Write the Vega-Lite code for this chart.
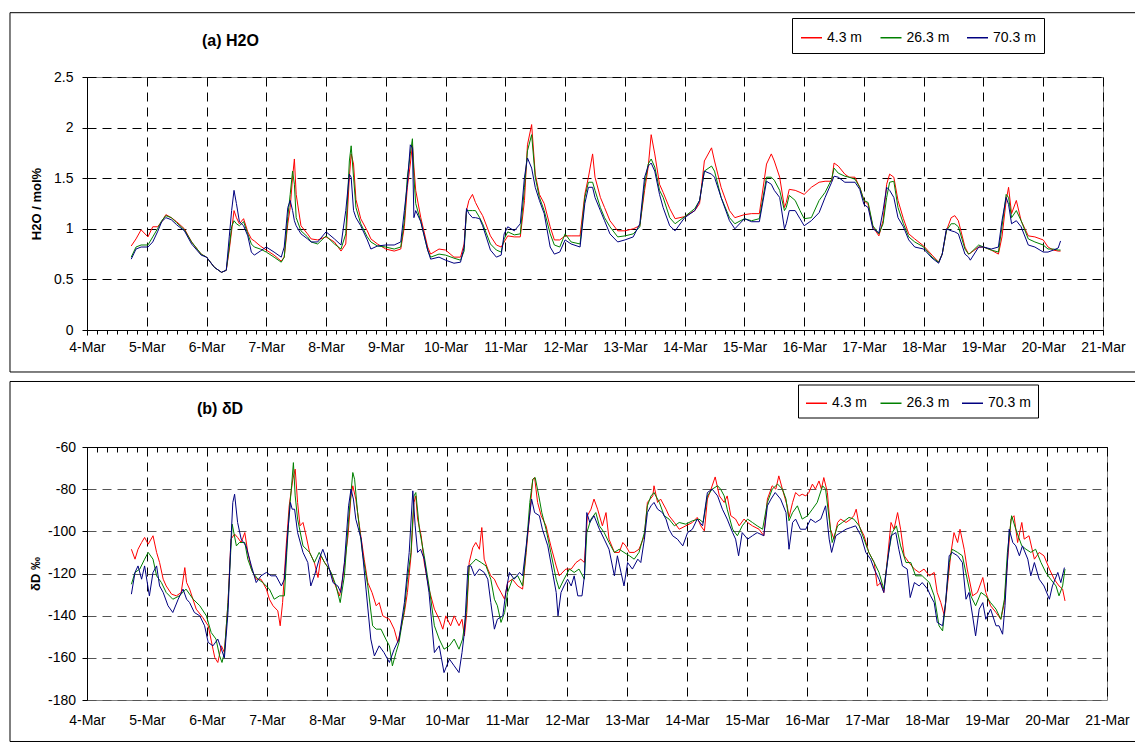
{
"$schema": "https://vega.github.io/schema/vega-lite/v6.json",
"padding": {"left": 8, "top": 11, "right": 0, "bottom": 0},
"spacing": 7,
"config": {
  "font": "Liberation Sans",
  "view": {"stroke": "#808080", "strokeWidth": 1},
  "axis": {"labelFont": "Liberation Sans", "labelFontSize": 14, "labelColor": "black", "tickColor": "black", "domainColor": "black", "gridColor": "black", "gridDash": [9, 6], "gridOpacity": 1, "gridWidth": 1, "tickWidth": 1, "domainWidth": 1, "titleFont": "Liberation Sans", "titleFontSize": 13, "titleFontWeight": "bold", "titleColor": "black", "labelFlush": false, "labelOverlap": false, "labelBound": false},
  "legend": {"labelFont": "Liberation Sans", "labelFontSize": 14, "labelColor": "black"}
},
"datasets": {
"h2o": [
{"t":4.74,"h4":0.83,"h26":0.72,"h70":0.7},{"t":4.82,"h4":0.9,"h26":0.82,"h70":0.8},{"t":4.905,"h4":0.99,"h26":0.84,"h70":0.82},{"t":5.02,"h4":0.92,"h26":0.84,"h70":0.82},{"t":5.1,"h4":1.02,"h26":0.92,"h70":0.87},{"t":5.18,"h4":1.02,"h26":1,"h70":0.97},{"t":5.25,"h4":1.07,"h26":1.08,"h70":1.07},{"t":5.32,"h4":1.14,"h26":1.13,"h70":1.11},{"t":5.41,"h4":1.11,"h26":1.11,"h70":1.09},{"t":5.5,"h4":1.07,"h26":1.06,"h70":1.04},{"t":5.63,"h4":1,"h26":0.99,"h70":0.98},{"t":5.75,"h4":0.87,"h26":0.87,"h70":0.85},{"t":5.91,"h4":0.75,"h26":0.75,"h70":0.74},{"t":6,"h4":0.72,"h26":0.72,"h70":0.72},{"t":6.13,"h4":0.62,"h26":0.62,"h70":0.62},{"t":6.25,"h4":0.57,"h26":0.57,"h70":0.57},{"t":6.33,"h4":0.59,"h26":0.59,"h70":0.59},{"t":6.38,"h4":0.79,"h26":0.82,"h70":0.92},{"t":6.42,"h4":0.98,"h26":1.02,"h70":1.18},{"t":6.46,"h4":1.18,"h26":1.08,"h70":1.38},{"t":6.5,"h4":1.11,"h26":1.05,"h70":1.25},{"t":6.55,"h4":1.05,"h26":1.03,"h70":1.07},{"t":6.62,"h4":1.1,"h26":1.07,"h70":1.03},{"t":6.69,"h4":0.97,"h26":0.95,"h70":0.93},{"t":6.75,"h4":0.9,"h26":0.85,"h70":0.77},{"t":6.8,"h4":0.88,"h26":0.82,"h70":0.74},{"t":6.9,"h4":0.83,"h26":0.8,"h70":0.78},{"t":7,"h4":0.79,"h26":0.77,"h70":0.82},{"t":7.13,"h4":0.74,"h26":0.72,"h70":0.77},{"t":7.25,"h4":0.68,"h26":0.67,"h70":0.72},{"t":7.3,"h4":0.72,"h26":0.72,"h70":0.82},{"t":7.36,"h4":1.05,"h26":1.12,"h70":1.21},{"t":7.4,"h4":1.21,"h26":1.34,"h70":1.28},{"t":7.44,"h4":1.51,"h26":1.57,"h70":1.18},{"t":7.47,"h4":1.69,"h26":1.44,"h70":1.08},{"t":7.5,"h4":1.34,"h26":1.11,"h70":1.03},{"t":7.58,"h4":1.03,"h26":0.98,"h70":0.95},{"t":7.69,"h4":0.95,"h26":0.92,"h70":0.9},{"t":7.75,"h4":0.9,"h26":0.87,"h70":0.87},{"t":7.86,"h4":0.89,"h26":0.85,"h70":0.87},{"t":8,"h4":0.92,"h26":0.93,"h70":0.97},{"t":8.14,"h4":0.87,"h26":0.85,"h70":0.9},{"t":8.25,"h4":0.78,"h26":0.8,"h70":0.84},{"t":8.33,"h4":0.85,"h26":0.95,"h70":1.18},{"t":8.39,"h4":1.51,"h26":1.67,"h70":1.54},{"t":8.42,"h4":1.74,"h26":1.82,"h70":1.51},{"t":8.46,"h4":1.64,"h26":1.51,"h70":1.18},{"t":8.5,"h4":1.29,"h26":1.21,"h70":1.11},{"t":8.58,"h4":1.1,"h26":1.05,"h70":1.03},{"t":8.69,"h4":0.98,"h26":0.92,"h70":0.89},{"t":8.75,"h4":0.9,"h26":0.87,"h70":0.8},{"t":8.86,"h4":0.85,"h26":0.83,"h70":0.83},{"t":9,"h4":0.8,"h26":0.82,"h70":0.84},{"t":9.14,"h4":0.78,"h26":0.8,"h70":0.84},{"t":9.25,"h4":0.8,"h26":0.82,"h70":0.87},{"t":9.31,"h4":1.02,"h26":1.08,"h70":1.18},{"t":9.36,"h4":1.41,"h26":1.51,"h70":1.44},{"t":9.41,"h4":1.64,"h26":1.74,"h70":1.83},{"t":9.445,"h4":1.83,"h26":1.89,"h70":1.8},{"t":9.47,"h4":1.61,"h26":1.51,"h70":1.11},{"t":9.5,"h4":1.38,"h26":1.25,"h70":1.18},{"t":9.585,"h4":1.11,"h26":1.07,"h70":1.07},{"t":9.7,"h4":0.82,"h26":0.79,"h70":0.79},{"t":9.75,"h4":0.75,"h26":0.72,"h70":0.7},{"t":9.89,"h4":0.8,"h26":0.75,"h70":0.72},{"t":10,"h4":0.79,"h26":0.74,"h70":0.69},{"t":10.14,"h4":0.72,"h26":0.71,"h70":0.66},{"t":10.25,"h4":0.72,"h26":0.69,"h70":0.67},{"t":10.31,"h4":0.85,"h26":0.78,"h70":0.82},{"t":10.35,"h4":1.18,"h26":1.18,"h70":1.2},{"t":10.39,"h4":1.28,"h26":1.18,"h70":1.15},{"t":10.45,"h4":1.34,"h26":1.18,"h70":1.11},{"t":10.5,"h4":1.26,"h26":1.18,"h70":1.11},{"t":10.57,"h4":1.18,"h26":1.11,"h70":1.1},{"t":10.62,"h4":1.13,"h26":1.05,"h70":1.03},{"t":10.75,"h4":0.93,"h26":0.85,"h70":0.79},{"t":10.85,"h4":0.84,"h26":0.79,"h70":0.72},{"t":10.93,"h4":0.82,"h26":0.77,"h70":0.74},{"t":10.98,"h4":0.87,"h26":0.9,"h70":0.95},{"t":11.04,"h4":0.93,"h26":0.97,"h70":1.02},{"t":11.15,"h4":0.92,"h26":0.94,"h70":0.98},{"t":11.25,"h4":0.92,"h26":0.95,"h70":1.05},{"t":11.32,"h4":1.28,"h26":1.41,"h70":1.51},{"t":11.37,"h4":1.83,"h26":1.77,"h70":1.7},{"t":11.44,"h4":2.03,"h26":1.93,"h70":1.6},{"t":11.5,"h4":1.54,"h26":1.51,"h70":1.41},{"t":11.57,"h4":1.34,"h26":1.31,"h70":1.28},{"t":11.65,"h4":1.25,"h26":1.18,"h70":1.15},{"t":11.75,"h4":1.02,"h26":0.95,"h70":0.82},{"t":11.82,"h4":0.89,"h26":0.84,"h70":0.75},{"t":11.91,"h4":0.89,"h26":0.82,"h70":0.77},{"t":12,"h4":0.93,"h26":0.95,"h70":0.89},{"t":12.1,"h4":0.93,"h26":0.87,"h70":0.85},{"t":12.25,"h4":0.93,"h26":0.85,"h70":0.82},{"t":12.33,"h4":1.34,"h26":1.31,"h70":1.25},{"t":12.39,"h4":1.51,"h26":1.46,"h70":1.41},{"t":12.46,"h4":1.74,"h26":1.46,"h70":1.41},{"t":12.5,"h4":1.51,"h26":1.38,"h70":1.31},{"t":12.59,"h4":1.31,"h26":1.21,"h70":1.18},{"t":12.66,"h4":1.21,"h26":1.11,"h70":1.08},{"t":12.75,"h4":1.08,"h26":1.02,"h70":0.95},{"t":12.88,"h4":0.98,"h26":0.92,"h70":0.87},{"t":13,"h4":0.98,"h26":0.93,"h70":0.89},{"t":13.14,"h4":1,"h26":0.95,"h70":0.92},{"t":13.25,"h4":1.03,"h26":1.02,"h70":1.05},{"t":13.33,"h4":1.38,"h26":1.44,"h70":1.51},{"t":13.39,"h4":1.61,"h26":1.64,"h70":1.62},{"t":13.44,"h4":1.93,"h26":1.69,"h70":1.65},{"t":13.5,"h4":1.74,"h26":1.61,"h70":1.57},{"t":13.58,"h4":1.44,"h26":1.38,"h70":1.34},{"t":13.64,"h4":1.36,"h26":1.31,"h70":1.21},{"t":13.75,"h4":1.2,"h26":1.11,"h70":1.03},{"t":13.84,"h4":1.1,"h26":1.05,"h70":0.98},{"t":14,"h4":1.12,"h26":1.12,"h70":1.11},{"t":14.17,"h4":1.18,"h26":1.2,"h70":1.18},{"t":14.25,"h4":1.25,"h26":1.28,"h70":1.28},{"t":14.33,"h4":1.67,"h26":1.57,"h70":1.57},{"t":14.45,"h4":1.8,"h26":1.62,"h70":1.54},{"t":14.5,"h4":1.67,"h26":1.57,"h70":1.51},{"t":14.61,"h4":1.41,"h26":1.31,"h70":1.31},{"t":14.75,"h4":1.18,"h26":1.11,"h70":1.08},{"t":14.84,"h4":1.11,"h26":1.05,"h70":1},{"t":15,"h4":1.14,"h26":1.1,"h70":1.1},{"t":15.12,"h4":1.15,"h26":1.08,"h70":1.07},{"t":15.25,"h4":1.15,"h26":1.1,"h70":1.07},{"t":15.37,"h4":1.64,"h26":1.51,"h70":1.47},{"t":15.45,"h4":1.74,"h26":1.51,"h70":1.44},{"t":15.5,"h4":1.67,"h26":1.48,"h70":1.38},{"t":15.59,"h4":1.51,"h26":1.38,"h70":1.31},{"t":15.67,"h4":1.21,"h26":1.18,"h70":1},{"t":15.7,"h4":1.26,"h26":1.21,"h70":1.05},{"t":15.75,"h4":1.39,"h26":1.33,"h70":1.18},{"t":15.85,"h4":1.38,"h26":1.28,"h70":1.18},{"t":15.93,"h4":1.36,"h26":1.18,"h70":1.1},{"t":16,"h4":1.34,"h26":1.1,"h70":1.03},{"t":16.12,"h4":1.41,"h26":1.11,"h70":1.08},{"t":16.25,"h4":1.46,"h26":1.28,"h70":1.16},{"t":16.35,"h4":1.47,"h26":1.36,"h70":1.31},{"t":16.46,"h4":1.47,"h26":1.49,"h70":1.46},{"t":16.5,"h4":1.65,"h26":1.6,"h70":1.52},{"t":16.57,"h4":1.62,"h26":1.55,"h70":1.51},{"t":16.68,"h4":1.54,"h26":1.52,"h70":1.46},{"t":16.75,"h4":1.51,"h26":1.51,"h70":1.46},{"t":16.85,"h4":1.51,"h26":1.49,"h70":1.46},{"t":16.93,"h4":1.41,"h26":1.41,"h70":1.39},{"t":17,"h4":1.28,"h26":1.28,"h70":1.24},{"t":17.07,"h4":1.24,"h26":1.26,"h70":1.21},{"t":17.15,"h4":1.02,"h26":1.03,"h70":1},{"t":17.25,"h4":0.93,"h26":0.95,"h70":0.96},{"t":17.32,"h4":1.08,"h26":1.05,"h70":1.18},{"t":17.38,"h4":1.44,"h26":1.31,"h70":1.41},{"t":17.43,"h4":1.54,"h26":1.46,"h70":1.38},{"t":17.5,"h4":1.51,"h26":1.47,"h70":1.31},{"t":17.57,"h4":1.28,"h26":1.21,"h70":1.11},{"t":17.66,"h4":1.1,"h26":1.05,"h70":1.02},{"t":17.75,"h4":0.95,"h26":0.92,"h70":0.89},{"t":17.85,"h4":0.9,"h26":0.87,"h70":0.82},{"t":18,"h4":0.83,"h26":0.82,"h70":0.8},{"t":18.14,"h4":0.74,"h26":0.72,"h70":0.71},{"t":18.25,"h4":0.67,"h26":0.67,"h70":0.66},{"t":18.31,"h4":0.75,"h26":0.75,"h70":0.75},{"t":18.38,"h4":0.98,"h26":0.98,"h70":1},{"t":18.46,"h4":1.11,"h26":1.05,"h70":0.98},{"t":18.52,"h4":1.13,"h26":1.05,"h70":0.97},{"t":18.58,"h4":1.08,"h26":1.02,"h70":0.95},{"t":18.69,"h4":0.82,"h26":0.8,"h70":0.75},{"t":18.75,"h4":0.75,"h26":0.75,"h70":0.72},{"t":18.78,"h4":0.76,"h26":0.76,"h70":0.69},{"t":18.92,"h4":0.82,"h26":0.84,"h70":0.82},{"t":19,"h4":0.82,"h26":0.82,"h70":0.82},{"t":19.13,"h4":0.79,"h26":0.79,"h70":0.8},{"t":19.25,"h4":0.75,"h26":0.77,"h70":0.82},{"t":19.31,"h4":0.92,"h26":1.02,"h70":1.08},{"t":19.38,"h4":1.28,"h26":1.34,"h70":1.31},{"t":19.42,"h4":1.41,"h26":1.31,"h70":1.24},{"t":19.47,"h4":1.15,"h26":1.11,"h70":1.05},{"t":19.55,"h4":1.28,"h26":1.18,"h70":1.08},{"t":19.63,"h4":1.08,"h26":1.08,"h70":1.02},{"t":19.75,"h4":0.93,"h26":0.9,"h70":0.84},{"t":19.86,"h4":0.92,"h26":0.87,"h70":0.82},{"t":20,"h4":0.89,"h26":0.84,"h70":0.77},{"t":20.08,"h4":0.82,"h26":0.8,"h70":0.77},{"t":20.17,"h4":0.79,"h26":0.8,"h70":0.79},{"t":20.25,"h4":0.78,"h26":0.79,"h70":0.81},{"t":20.29,"h4":0.78,"h26":0.79,"h70":0.88}
],
"dD4": [
{"t":4.74,"v":-108.5},{"t":4.8,"v":-113.2},{"t":4.85,"v":-108.5},{"t":4.91,"v":-105.3},{"t":4.96,"v":-102.9},{"t":5.02,"v":-106.1},{"t":5.1,"v":-102.1},{"t":5.16,"v":-110},{"t":5.21,"v":-114.8},{"t":5.27,"v":-122.7},{"t":5.32,"v":-125.9},{"t":5.41,"v":-129.8},{"t":5.49,"v":-130.6},{"t":5.57,"v":-129},{"t":5.63,"v":-117.2},{"t":5.66,"v":-124.3},{"t":5.71,"v":-127.4},{"t":5.82,"v":-136.9},{"t":5.93,"v":-140.9},{"t":6.02,"v":-144.8},{"t":6.1,"v":-155.9},{"t":6.13,"v":-159.9},{"t":6.18,"v":-162.2},{"t":6.24,"v":-154.3},{"t":6.29,"v":-157.5},{"t":6.35,"v":-133.8},{"t":6.4,"v":-103.7},{"t":6.46,"v":-101.3},{"t":6.51,"v":-102.9},{"t":6.57,"v":-105.3},{"t":6.63,"v":-100.6},{"t":6.68,"v":-110},{"t":6.74,"v":-117.9},{"t":6.82,"v":-122.7},{"t":6.9,"v":-122.7},{"t":6.99,"v":-127.4},{"t":7.04,"v":-132.2},{"t":7.1,"v":-135.3},{"t":7.18,"v":-137.7},{"t":7.22,"v":-144.8},{"t":7.26,"v":-133.8},{"t":7.32,"v":-106.9},{"t":7.37,"v":-87.9},{"t":7.43,"v":-75.3},{"t":7.47,"v":-70.5},{"t":7.51,"v":-86.3},{"t":7.55,"v":-97.4},{"t":7.6,"v":-95.8},{"t":7.64,"v":-100.6},{"t":7.71,"v":-110},{"t":7.79,"v":-114.8},{"t":7.85,"v":-121.9},{"t":7.9,"v":-111.6},{"t":7.96,"v":-114.8},{"t":8.04,"v":-117.9},{"t":8.12,"v":-124.3},{"t":8.21,"v":-130.6},{"t":8.26,"v":-122.7},{"t":8.35,"v":-102.1},{"t":8.4,"v":-83.2},{"t":8.43,"v":-78.4},{"t":8.48,"v":-84.7},{"t":8.54,"v":-97.4},{"t":8.62,"v":-113.2},{"t":8.68,"v":-124.3},{"t":8.75,"v":-129},{"t":8.82,"v":-135.3},{"t":8.87,"v":-133.8},{"t":8.93,"v":-140.1},{"t":9.04,"v":-141.7},{"t":9.12,"v":-146.4},{"t":9.18,"v":-152.7},{"t":9.23,"v":-146.4},{"t":9.29,"v":-138.5},{"t":9.34,"v":-129},{"t":9.4,"v":-111.6},{"t":9.45,"v":-86.3},{"t":9.48,"v":-83.2},{"t":9.51,"v":-94.2},{"t":9.57,"v":-102.1},{"t":9.62,"v":-114.8},{"t":9.7,"v":-127.4},{"t":9.79,"v":-136.9},{"t":9.87,"v":-141.7},{"t":9.93,"v":-146.4},{"t":9.98,"v":-140.1},{"t":10.06,"v":-144.8},{"t":10.12,"v":-140.1},{"t":10.2,"v":-144.8},{"t":10.25,"v":-141.7},{"t":10.29,"v":-149.6},{"t":10.33,"v":-138.5},{"t":10.37,"v":-114.8},{"t":10.43,"v":-107.7},{"t":10.48,"v":-105.3},{"t":10.54,"v":-108.5},{"t":10.58,"v":-98.2},{"t":10.62,"v":-113.2},{"t":10.68,"v":-117.9},{"t":10.73,"v":-121.1},{"t":10.79,"v":-122.7},{"t":10.84,"v":-125.9},{"t":10.9,"v":-129},{"t":10.96,"v":-132.2},{"t":11.01,"v":-124.3},{"t":11.09,"v":-122.7},{"t":11.18,"v":-125.9},{"t":11.26,"v":-127.4},{"t":11.32,"v":-110},{"t":11.38,"v":-91.1},{"t":11.43,"v":-75.3},{"t":11.46,"v":-74.5},{"t":11.51,"v":-86.3},{"t":11.57,"v":-92.6},{"t":11.65,"v":-97.4},{"t":11.73,"v":-106.9},{"t":11.82,"v":-116.4},{"t":11.87,"v":-121.1},{"t":11.98,"v":-117.9},{"t":12.07,"v":-117.9},{"t":12.15,"v":-114.8},{"t":12.23,"v":-113.2},{"t":12.29,"v":-114.8},{"t":12.34,"v":-92.6},{"t":12.4,"v":-89.5},{"t":12.45,"v":-84.7},{"t":12.51,"v":-89.5},{"t":12.59,"v":-97.4},{"t":12.65,"v":-91.1},{"t":12.7,"v":-103.7},{"t":12.79,"v":-110},{"t":12.87,"v":-110},{"t":12.93,"v":-105.3},{"t":12.98,"v":-106.9},{"t":13.04,"v":-110},{"t":13.12,"v":-110},{"t":13.2,"v":-108.5},{"t":13.29,"v":-102.1},{"t":13.34,"v":-86.3},{"t":13.43,"v":-83.2},{"t":13.45,"v":-78.4},{"t":13.51,"v":-86.3},{"t":13.56,"v":-84.7},{"t":13.65,"v":-89.5},{"t":13.7,"v":-92.6},{"t":13.79,"v":-95.8},{"t":13.87,"v":-99},{"t":13.98,"v":-97.4},{"t":14.09,"v":-95.8},{"t":14.17,"v":-93.4},{"t":14.23,"v":-97.4},{"t":14.29,"v":-99.8},{"t":14.34,"v":-84.7},{"t":14.4,"v":-80},{"t":14.47,"v":-74.2},{"t":14.54,"v":-83.2},{"t":14.62,"v":-86.3},{"t":14.67,"v":-83.2},{"t":14.73,"v":-92.6},{"t":14.81,"v":-94.2},{"t":14.87,"v":-97.4},{"t":14.95,"v":-94.2},{"t":15.01,"v":-95.8},{"t":15.09,"v":-97.4},{"t":15.2,"v":-99},{"t":15.28,"v":-102.1},{"t":15.34,"v":-84.7},{"t":15.42,"v":-78.4},{"t":15.48,"v":-80},{"t":15.53,"v":-73.7},{"t":15.59,"v":-80},{"t":15.67,"v":-87.9},{"t":15.7,"v":-93.4},{"t":15.76,"v":-86.3},{"t":15.81,"v":-81.6},{"t":15.87,"v":-83.2},{"t":15.92,"v":-82.4},{"t":15.98,"v":-83.2},{"t":16.03,"v":-81.6},{"t":16.09,"v":-77.6},{"t":16.14,"v":-80},{"t":16.2,"v":-76.1},{"t":16.24,"v":-80},{"t":16.28,"v":-74.5},{"t":16.34,"v":-81.6},{"t":16.39,"v":-99},{"t":16.45,"v":-103.7},{"t":16.51,"v":-95.8},{"t":16.56,"v":-94.2},{"t":16.65,"v":-95.8},{"t":16.73,"v":-94.2},{"t":16.78,"v":-92.6},{"t":16.82,"v":-89.5},{"t":16.87,"v":-97.4},{"t":16.95,"v":-102.1},{"t":17.03,"v":-110},{"t":17.12,"v":-114.8},{"t":17.17,"v":-125.9},{"t":17.23,"v":-124.3},{"t":17.28,"v":-129},{"t":17.34,"v":-113.2},{"t":17.4,"v":-95.8},{"t":17.45,"v":-99},{"t":17.51,"v":-91.1},{"t":17.56,"v":-99},{"t":17.62,"v":-111.6},{"t":17.7,"v":-114.8},{"t":17.79,"v":-117.9},{"t":17.87,"v":-119.5},{"t":17.95,"v":-117.9},{"t":18.04,"v":-121.1},{"t":18.12,"v":-119.5},{"t":18.17,"v":-129},{"t":18.23,"v":-133.8},{"t":18.29,"v":-140.1},{"t":18.34,"v":-125.9},{"t":18.4,"v":-110},{"t":18.45,"v":-100.6},{"t":18.51,"v":-105.3},{"t":18.55,"v":-99},{"t":18.62,"v":-108.5},{"t":18.67,"v":-117.9},{"t":18.76,"v":-130.6},{"t":18.84,"v":-129},{"t":18.93,"v":-121.9},{"t":18.98,"v":-129},{"t":19.06,"v":-135.3},{"t":19.15,"v":-138.5},{"t":19.23,"v":-141.7},{"t":19.29,"v":-133.8},{"t":19.34,"v":-114.8},{"t":19.4,"v":-94.2},{"t":19.45,"v":-92.6},{"t":19.51,"v":-105.3},{"t":19.58,"v":-95.8},{"t":19.62,"v":-103.7},{"t":19.7,"v":-102.1},{"t":19.79,"v":-113.2},{"t":19.87,"v":-110},{"t":19.95,"v":-111.6},{"t":20.04,"v":-117.9},{"t":20.12,"v":-122.7},{"t":20.2,"v":-125.9},{"t":20.26,"v":-127.4},{"t":20.3,"v":-133}
],
"dD26": [
{"t":4.74,"v":-125.1},{"t":4.8,"v":-119.5},{"t":4.88,"v":-117.9},{"t":4.96,"v":-113.2},{"t":5.02,"v":-110},{"t":5.1,"v":-113.2},{"t":5.16,"v":-121.1},{"t":5.24,"v":-124.3},{"t":5.32,"v":-129},{"t":5.43,"v":-132.2},{"t":5.54,"v":-130.6},{"t":5.65,"v":-127.4},{"t":5.77,"v":-132.2},{"t":5.88,"v":-135.3},{"t":5.99,"v":-140.1},{"t":6.07,"v":-148},{"t":6.15,"v":-151.1},{"t":6.21,"v":-159.1},{"t":6.25,"v":-162.2},{"t":6.29,"v":-157.5},{"t":6.35,"v":-133.8},{"t":6.42,"v":-96.6},{"t":6.49,"v":-106.9},{"t":6.54,"v":-105.3},{"t":6.63,"v":-105.3},{"t":6.68,"v":-113.2},{"t":6.76,"v":-119.5},{"t":6.85,"v":-122.7},{"t":6.93,"v":-124.3},{"t":7.04,"v":-127.4},{"t":7.12,"v":-132.2},{"t":7.21,"v":-130.6},{"t":7.29,"v":-130.6},{"t":7.33,"v":-110},{"t":7.37,"v":-91.1},{"t":7.41,"v":-78.4},{"t":7.44,"v":-67.4},{"t":7.47,"v":-83.2},{"t":7.51,"v":-94.2},{"t":7.6,"v":-106.9},{"t":7.71,"v":-110},{"t":7.79,"v":-114.8},{"t":7.87,"v":-110},{"t":7.96,"v":-114.8},{"t":8.07,"v":-119.5},{"t":8.15,"v":-125.9},{"t":8.22,"v":-133.8},{"t":8.29,"v":-121.1},{"t":8.36,"v":-94.2},{"t":8.4,"v":-81.6},{"t":8.43,"v":-72.1},{"t":8.46,"v":-75.3},{"t":8.51,"v":-91.1},{"t":8.59,"v":-110},{"t":8.68,"v":-125.9},{"t":8.76,"v":-144.8},{"t":8.82,"v":-146.4},{"t":8.9,"v":-146.4},{"t":8.98,"v":-151.1},{"t":9.04,"v":-154.3},{"t":9.09,"v":-163.8},{"t":9.15,"v":-157.5},{"t":9.2,"v":-152.7},{"t":9.29,"v":-136.9},{"t":9.34,"v":-122.7},{"t":9.4,"v":-110},{"t":9.45,"v":-83.2},{"t":9.48,"v":-81.6},{"t":9.54,"v":-99},{"t":9.62,"v":-111.6},{"t":9.7,"v":-125.9},{"t":9.79,"v":-144.8},{"t":9.87,"v":-151.1},{"t":9.95,"v":-155.9},{"t":10.04,"v":-154.3},{"t":10.12,"v":-151.1},{"t":10.2,"v":-155.9},{"t":10.26,"v":-151.1},{"t":10.32,"v":-138.5},{"t":10.37,"v":-116.4},{"t":10.43,"v":-114.8},{"t":10.48,"v":-113.2},{"t":10.57,"v":-114.8},{"t":10.65,"v":-116.4},{"t":10.73,"v":-122.7},{"t":10.79,"v":-132.2},{"t":10.84,"v":-135.3},{"t":10.9,"v":-143.2},{"t":10.96,"v":-138.5},{"t":11.01,"v":-129},{"t":11.09,"v":-122.7},{"t":11.18,"v":-121.1},{"t":11.26,"v":-125.9},{"t":11.32,"v":-108.5},{"t":11.38,"v":-86.3},{"t":11.43,"v":-75.3},{"t":11.47,"v":-74.5},{"t":11.53,"v":-83.2},{"t":11.58,"v":-91.1},{"t":11.65,"v":-99},{"t":11.73,"v":-110},{"t":11.82,"v":-122.7},{"t":11.87,"v":-127.4},{"t":11.95,"v":-122.7},{"t":12.04,"v":-117.9},{"t":12.12,"v":-119.5},{"t":12.2,"v":-117.9},{"t":12.29,"v":-122.7},{"t":12.33,"v":-100.6},{"t":12.4,"v":-94.2},{"t":12.48,"v":-91.1},{"t":12.54,"v":-97.4},{"t":12.62,"v":-100.6},{"t":12.7,"v":-105.3},{"t":12.79,"v":-110},{"t":12.87,"v":-108.5},{"t":12.95,"v":-110},{"t":13.04,"v":-111.6},{"t":13.12,"v":-113.2},{"t":13.2,"v":-110},{"t":13.29,"v":-100.6},{"t":13.34,"v":-87.9},{"t":13.4,"v":-83.2},{"t":13.45,"v":-81.6},{"t":13.54,"v":-86.3},{"t":13.62,"v":-92.6},{"t":13.7,"v":-94.2},{"t":13.79,"v":-97.4},{"t":13.87,"v":-95.8},{"t":13.98,"v":-96.6},{"t":14.09,"v":-95},{"t":14.2,"v":-94.2},{"t":14.27,"v":-95.8},{"t":14.34,"v":-83.2},{"t":14.42,"v":-80},{"t":14.51,"v":-78.4},{"t":14.56,"v":-80},{"t":14.62,"v":-83.2},{"t":14.67,"v":-89.5},{"t":14.76,"v":-99},{"t":14.84,"v":-102.1},{"t":14.92,"v":-97.4},{"t":15.01,"v":-94.2},{"t":15.09,"v":-95.8},{"t":15.17,"v":-97.4},{"t":15.26,"v":-99},{"t":15.34,"v":-86.3},{"t":15.42,"v":-80},{"t":15.51,"v":-77.6},{"t":15.59,"v":-80},{"t":15.65,"v":-84.7},{"t":15.7,"v":-95},{"t":15.76,"v":-91.1},{"t":15.84,"v":-87.9},{"t":15.92,"v":-94.2},{"t":16.01,"v":-92.6},{"t":16.09,"v":-89.5},{"t":16.17,"v":-86.3},{"t":16.26,"v":-78.4},{"t":16.31,"v":-80},{"t":16.37,"v":-94.2},{"t":16.42,"v":-105.3},{"t":16.51,"v":-97.4},{"t":16.59,"v":-95.8},{"t":16.7,"v":-93.4},{"t":16.78,"v":-94.2},{"t":16.87,"v":-97.4},{"t":16.95,"v":-103.7},{"t":17.03,"v":-110},{"t":17.12,"v":-114.8},{"t":17.2,"v":-119.5},{"t":17.28,"v":-127.4},{"t":17.36,"v":-110},{"t":17.42,"v":-100.6},{"t":17.49,"v":-97.4},{"t":17.56,"v":-106.9},{"t":17.65,"v":-114.8},{"t":17.73,"v":-114.8},{"t":17.81,"v":-121.1},{"t":17.92,"v":-121.1},{"t":18.04,"v":-124.3},{"t":18.12,"v":-130.6},{"t":18.2,"v":-144.8},{"t":18.26,"v":-147.2},{"t":18.31,"v":-133.8},{"t":18.37,"v":-114.8},{"t":18.42,"v":-108.5},{"t":18.51,"v":-110},{"t":18.59,"v":-111.6},{"t":18.67,"v":-122.7},{"t":18.73,"v":-130.6},{"t":18.81,"v":-135.3},{"t":18.9,"v":-129},{"t":18.98,"v":-130.6},{"t":19.06,"v":-133.8},{"t":19.15,"v":-136.9},{"t":19.23,"v":-141.7},{"t":19.29,"v":-132.2},{"t":19.34,"v":-110},{"t":19.41,"v":-92.6},{"t":19.48,"v":-99},{"t":19.58,"v":-106.9},{"t":19.65,"v":-108.5},{"t":19.73,"v":-110},{"t":19.81,"v":-108.5},{"t":19.9,"v":-114.8},{"t":19.98,"v":-119.5},{"t":20.06,"v":-122.7},{"t":20.15,"v":-125.9},{"t":20.2,"v":-130.6},{"t":20.26,"v":-125.9},{"t":20.3,"v":-117.9}
],
"dD70": [
{"t":4.74,"v":-129.8},{"t":4.8,"v":-119.5},{"t":4.85,"v":-116.4},{"t":4.91,"v":-122.7},{"t":4.96,"v":-116.4},{"t":5.04,"v":-130.6},{"t":5.1,"v":-119.5},{"t":5.16,"v":-116.4},{"t":5.21,"v":-125.9},{"t":5.27,"v":-129},{"t":5.35,"v":-135.3},{"t":5.43,"v":-138.5},{"t":5.52,"v":-132.2},{"t":5.6,"v":-127.4},{"t":5.66,"v":-132.2},{"t":5.71,"v":-133.8},{"t":5.79,"v":-138.5},{"t":5.88,"v":-140.1},{"t":5.96,"v":-144.8},{"t":6.02,"v":-152.7},{"t":6.1,"v":-154.3},{"t":6.18,"v":-151.1},{"t":6.24,"v":-155.9},{"t":6.29,"v":-160},{"t":6.35,"v":-138.5},{"t":6.39,"v":-110},{"t":6.43,"v":-86.3},{"t":6.46,"v":-82.4},{"t":6.51,"v":-95.8},{"t":6.57,"v":-103.7},{"t":6.65,"v":-106.9},{"t":6.74,"v":-116.4},{"t":6.82,"v":-124.3},{"t":6.9,"v":-121.1},{"t":6.99,"v":-119.5},{"t":7.07,"v":-121.1},{"t":7.15,"v":-121.1},{"t":7.24,"v":-125.9},{"t":7.29,"v":-122.7},{"t":7.35,"v":-99},{"t":7.39,"v":-86.3},{"t":7.42,"v":-89.5},{"t":7.46,"v":-89.5},{"t":7.51,"v":-100.6},{"t":7.6,"v":-110},{"t":7.68,"v":-114.8},{"t":7.73,"v":-125.9},{"t":7.79,"v":-121.1},{"t":7.87,"v":-113.2},{"t":7.93,"v":-108.5},{"t":8.01,"v":-114.8},{"t":8.1,"v":-124.3},{"t":8.18,"v":-125.9},{"t":8.23,"v":-129},{"t":8.29,"v":-114.8},{"t":8.36,"v":-87.9},{"t":8.4,"v":-80},{"t":8.44,"v":-84.7},{"t":8.48,"v":-94.2},{"t":8.57,"v":-103.7},{"t":8.65,"v":-127.4},{"t":8.73,"v":-151.1},{"t":8.79,"v":-159.1},{"t":8.87,"v":-154.3},{"t":8.95,"v":-157.5},{"t":9.04,"v":-162.2},{"t":9.12,"v":-155.9},{"t":9.2,"v":-151.1},{"t":9.29,"v":-133.8},{"t":9.37,"v":-110},{"t":9.43,"v":-80.8},{"t":9.47,"v":-97.4},{"t":9.51,"v":-110},{"t":9.56,"v":-108.5},{"t":9.62,"v":-113.2},{"t":9.7,"v":-129},{"t":9.79,"v":-157.5},{"t":9.87,"v":-154.3},{"t":9.95,"v":-167},{"t":10.04,"v":-160.6},{"t":10.12,"v":-163.8},{"t":10.2,"v":-167},{"t":10.25,"v":-157.5},{"t":10.29,"v":-148},{"t":10.35,"v":-116.4},{"t":10.4,"v":-116.4},{"t":10.46,"v":-121.1},{"t":10.54,"v":-117.9},{"t":10.62,"v":-119.5},{"t":10.68,"v":-122.7},{"t":10.73,"v":-133.8},{"t":10.79,"v":-146.4},{"t":10.84,"v":-141.7},{"t":10.93,"v":-140.1},{"t":10.98,"v":-129},{"t":11.04,"v":-119.5},{"t":11.12,"v":-122.7},{"t":11.21,"v":-119.5},{"t":11.26,"v":-121.1},{"t":11.32,"v":-106.9},{"t":11.37,"v":-94.2},{"t":11.41,"v":-84.7},{"t":11.46,"v":-91.1},{"t":11.54,"v":-92.6},{"t":11.59,"v":-99},{"t":11.68,"v":-106.9},{"t":11.76,"v":-119.5},{"t":11.82,"v":-129},{"t":11.85,"v":-140.1},{"t":11.9,"v":-129},{"t":11.95,"v":-125.9},{"t":12.01,"v":-122.7},{"t":12.07,"v":-125.9},{"t":12.12,"v":-121.1},{"t":12.18,"v":-130.6},{"t":12.25,"v":-130.6},{"t":12.29,"v":-121.1},{"t":12.33,"v":-91.1},{"t":12.38,"v":-95.8},{"t":12.45,"v":-92.6},{"t":12.54,"v":-99},{"t":12.62,"v":-103.7},{"t":12.7,"v":-108.5},{"t":12.79,"v":-121.1},{"t":12.84,"v":-111.6},{"t":12.9,"v":-119.5},{"t":12.95,"v":-125.9},{"t":13.01,"v":-114.8},{"t":13.09,"v":-117.9},{"t":13.18,"v":-113.2},{"t":13.23,"v":-114.8},{"t":13.29,"v":-103.7},{"t":13.34,"v":-91.1},{"t":13.4,"v":-87.9},{"t":13.45,"v":-86.3},{"t":13.51,"v":-89.5},{"t":13.59,"v":-91.1},{"t":13.65,"v":-94.2},{"t":13.7,"v":-99},{"t":13.76,"v":-102.1},{"t":13.84,"v":-103.7},{"t":13.93,"v":-106.9},{"t":14.01,"v":-100.6},{"t":14.09,"v":-99},{"t":14.17,"v":-94.2},{"t":14.26,"v":-97.4},{"t":14.34,"v":-81.6},{"t":14.42,"v":-80},{"t":14.51,"v":-83.2},{"t":14.59,"v":-89.5},{"t":14.67,"v":-94.2},{"t":14.76,"v":-100.6},{"t":14.81,"v":-103.7},{"t":14.86,"v":-111.6},{"t":14.92,"v":-100.6},{"t":15.01,"v":-103.7},{"t":15.09,"v":-102.1},{"t":15.17,"v":-100.6},{"t":15.28,"v":-102.1},{"t":15.34,"v":-87.9},{"t":15.4,"v":-84.7},{"t":15.47,"v":-81.6},{"t":15.56,"v":-84.7},{"t":15.65,"v":-91.1},{"t":15.7,"v":-108.5},{"t":15.76,"v":-95.8},{"t":15.81,"v":-94.2},{"t":15.89,"v":-99},{"t":15.98,"v":-99},{"t":16.06,"v":-94.2},{"t":16.14,"v":-95.8},{"t":16.23,"v":-94.2},{"t":16.31,"v":-87.9},{"t":16.37,"v":-103.7},{"t":16.41,"v":-110},{"t":16.48,"v":-102.1},{"t":16.56,"v":-100.6},{"t":16.65,"v":-99},{"t":16.73,"v":-98.2},{"t":16.81,"v":-97.4},{"t":16.9,"v":-102.1},{"t":16.98,"v":-110},{"t":17.06,"v":-113.2},{"t":17.12,"v":-117.9},{"t":17.2,"v":-122.7},{"t":17.28,"v":-129},{"t":17.34,"v":-114.8},{"t":17.4,"v":-102.1},{"t":17.48,"v":-100.6},{"t":17.53,"v":-108.5},{"t":17.59,"v":-116.4},{"t":17.67,"v":-117.9},{"t":17.72,"v":-131.4},{"t":17.79,"v":-124.3},{"t":17.87,"v":-125.9},{"t":17.92,"v":-124.3},{"t":18.01,"v":-127.4},{"t":18.06,"v":-130.6},{"t":18.12,"v":-133.8},{"t":18.17,"v":-143.2},{"t":18.26,"v":-144.8},{"t":18.31,"v":-133.8},{"t":18.37,"v":-111.6},{"t":18.42,"v":-110},{"t":18.51,"v":-111.6},{"t":18.59,"v":-114.8},{"t":18.65,"v":-132.2},{"t":18.7,"v":-129},{"t":18.76,"v":-140.1},{"t":18.81,"v":-149.6},{"t":18.87,"v":-136.9},{"t":18.93,"v":-133.8},{"t":18.98,"v":-141.7},{"t":19.06,"v":-136.9},{"t":19.15,"v":-144.8},{"t":19.2,"v":-144.8},{"t":19.26,"v":-148.8},{"t":19.3,"v":-135.3},{"t":19.37,"v":-99},{"t":19.43,"v":-105.3},{"t":19.48,"v":-106.9},{"t":19.54,"v":-111.6},{"t":19.59,"v":-106.9},{"t":19.68,"v":-113.2},{"t":19.73,"v":-121.1},{"t":19.79,"v":-114.8},{"t":19.87,"v":-122.7},{"t":19.95,"v":-125.9},{"t":20.04,"v":-132.2},{"t":20.09,"v":-125.9},{"t":20.18,"v":-119.5},{"t":20.23,"v":-124.3},{"t":20.29,"v":-117.2}
]
},
"vconcat": [
{
  "width": 1016,
  "height": 253,
  "title": {"text": "(a) H2O", "anchor": "start", "frame": "group", "dx": 115, "offset": -49.5, "baseline": "alphabetic", "font": "Liberation Sans", "fontSize": 16, "fontWeight": "bold", "color": "black"},
  "resolve": {"axis": {"x": "independent", "y": "independent"}},
  "layer": [
    {
      "data": {"values": [{}]},
      "mark": {"type": "rect", "fill": "white", "fillOpacity": 0, "stroke": "black", "strokeWidth": 1},
      "encoding": {
        "x": {"datum": 2.7116, "type": "quantitative", "scale": {"domain": [4, 21], "nice": false, "zero": false}, "axis": {"orient": "bottom", "values": [4,4.167,4.333,4.5,4.667,4.833,5,5.167,5.333,5.5,5.667,5.833,6,6.167,6.333,6.5,6.667,6.833,7,7.167,7.333,7.5,7.667,7.833,8,8.167,8.333,8.5,8.667,8.833,9,9.167,9.333,9.5,9.667,9.833,10,10.167,10.333,10.5,10.667,10.833,11,11.167,11.333,11.5,11.667,11.833,12,12.167,12.333,12.5,12.667,12.833,13,13.167,13.333,13.5,13.667,13.833,14,14.167,14.333,14.5,14.667,14.833,15,15.167,15.333,15.5,15.667,15.833,16,16.167,16.333,16.5,16.667,16.833,17,17.167,17.333,17.5,17.667,17.833,18,18.167,18.333,18.5,18.667,18.833,19,19.167,19.333,19.5,19.667,19.833,20,20.167,20.333,20.5,20.667,20.833,21], "labels": false, "grid": false, "domain": false, "ticks": true, "tickSize": 4, "title": null}},
        "x2": {"datum": 21.544},
        "y": {"datum": 3.1354, "type": "quantitative", "scale": {"domain": [0, 2.5], "nice": false, "zero": false}, "axis": null},
        "y2": {"datum": -0.415}
      }
    },
    {
      "data": {"name": "h2o"},
      "mark": {"type": "line", "strokeWidth": 1},
      "encoding": {
        "x": {"field": "t", "type": "quantitative", "scale": {"domain": [4, 21], "nice": false, "zero": false}, "axis": {"orient": "bottom", "values": [4,5,6,7,8,9,10,11,12,13,14,15,16,17,18,19,20,21], "labelExpr": "datum.value + '-Mar'", "grid": true, "domain": true, "ticks": true, "tickSize": 5, "labelPadding": 5, "title": null}},
        "y": {"field": "h4", "type": "quantitative", "scale": {"domain": [0, 2.5], "nice": false, "zero": false}, "axis": {"orient": "left", "values": [0, 0.5, 1, 1.5, 2, 2.5], "labelExpr": "datum.value + ''", "grid": true, "domain": true, "ticks": true, "tickSize": 5, "labelPadding": 9, "title": "H2O / mol%", "titleX": -51, "titleY": 126.5, "titleAngle": 270, "titleAlign": "center", "titleBaseline": "middle"}},
        "color": {"datum": "4.3 m", "type": "nominal", "scale": {"domain": ["4.3 m", "26.3 m", "70.3 m"], "range": ["#ff0000", "#008000", "#000080"]}, "legend": {"orient": "none", "legendX": 705, "legendY": -59, "direction": "horizontal", "title": null, "symbolType": "stroke", "symbolSize": 441, "symbolStrokeWidth": 1.5, "labelFontSize": 14, "labelOffset": 4, "columnPadding": 14.5, "padding": 8, "strokeColor": "black", "fillColor": "white"}}
      }
    },
    {
      "data": {"name": "h2o"},
      "mark": {"type": "line", "strokeWidth": 1},
      "encoding": {
        "x": {"field": "t", "type": "quantitative", "scale": {"domain": [4, 21], "nice": false, "zero": false}, "axis": null},
        "y": {"field": "h26", "type": "quantitative", "scale": {"domain": [0, 2.5], "nice": false, "zero": false}, "axis": null},
        "color": {"datum": "26.3 m", "type": "nominal"}
      }
    },
    {
      "data": {"name": "h2o"},
      "mark": {"type": "line", "strokeWidth": 1},
      "encoding": {
        "x": {"field": "t", "type": "quantitative", "scale": {"domain": [4, 21], "nice": false, "zero": false}, "axis": null},
        "y": {"field": "h70", "type": "quantitative", "scale": {"domain": [0, 2.5], "nice": false, "zero": false}, "axis": null},
        "color": {"datum": "70.3 m", "type": "nominal"}
      }
    }
  ]
},
{
  "width": 1020,
  "height": 253,
  "title": {"text": "(b) δD", "anchor": "start", "frame": "group", "dx": 110, "offset": -49, "baseline": "alphabetic", "font": "Liberation Sans", "fontSize": 16, "fontWeight": "bold", "color": "black"},
  "resolve": {"axis": {"x": "independent", "y": "independent"}},
  "layer": [
    {
      "data": {"values": [{}]},
      "mark": {"type": "rect", "fill": "white", "fillOpacity": 0, "stroke": "black", "strokeWidth": 1},
      "encoding": {
        "x": {"datum": 2.7167, "type": "quantitative", "scale": {"domain": [4, 21], "nice": false, "zero": false}, "axis": {"orient": "bottom", "offset": -253, "values": [4,4.167,4.333,4.5,4.667,4.833,5,5.167,5.333,5.5,5.667,5.833,6,6.167,6.333,6.5,6.667,6.833,7,7.167,7.333,7.5,7.667,7.833,8,8.167,8.333,8.5,8.667,8.833,9,9.167,9.333,9.5,9.667,9.833,10,10.167,10.333,10.5,10.667,10.833,11,11.167,11.333,11.5,11.667,11.833,12,12.167,12.333,12.5,12.667,12.833,13,13.167,13.333,13.5,13.667,13.833,14,14.167,14.333,14.5,14.667,14.833,15,15.167,15.333,15.5,15.667,15.833,16,16.167,16.333,16.5,16.667,16.833,17,17.167,17.333,17.5,17.667,17.833,18,18.167,18.333,18.5,18.667,18.833,19,19.167,19.333,19.5,19.667,19.833,20,20.167,20.333,20.5,20.667,20.833,21], "labels": false, "grid": false, "domain": true, "ticks": true, "tickSize": 5, "title": null}},
        "x2": {"datum": 21.475},
        "y": {"datum": -28.93, "type": "quantitative", "scale": {"domain": [-180, -60], "nice": false, "zero": false}, "axis": null},
        "y2": {"datum": -199.68}
      }
    },
    {
      "data": {"name": "dD4"},
      "mark": {"type": "line", "strokeWidth": 1},
      "encoding": {
        "x": {"field": "t", "type": "quantitative", "scale": {"domain": [4, 21], "nice": false, "zero": false}, "axis": {"orient": "bottom", "values": [4,5,6,7,8,9,10,11,12,13,14,15,16,17,18,19,20,21], "labelExpr": "datum.value + '-Mar'", "grid": true, "domain": false, "ticks": false, "tickSize": 0, "labelPadding": 13.5, "title": null}},
        "y": {"field": "v", "type": "quantitative", "scale": {"domain": [-180, -60], "nice": false, "zero": false}, "axis": {"orient": "left", "values": [-180, -160, -140, -120, -100, -80, -60], "labelExpr": "datum.value + ''", "grid": true, "gridColor": "#555555", "domain": true, "ticks": true, "tickSize": 5, "labelPadding": 6.5, "title": "δD ‰", "titleX": -52, "titleY": 126.5, "titleAngle": 270, "titleAlign": "center", "titleBaseline": "middle"}},
        "color": {"datum": "4.3 m", "type": "nominal", "scale": {"domain": ["4.3 m", "26.3 m", "70.3 m"], "range": ["#ff0000", "#008000", "#000080"]}, "legend": {"orient": "none", "legendX": 711, "legendY": -62.5, "direction": "horizontal", "title": null, "symbolType": "stroke", "symbolSize": 441, "symbolStrokeWidth": 1.5, "labelFontSize": 14, "labelOffset": 4, "columnPadding": 9.5, "padding": 7, "strokeColor": "black", "fillColor": "white"}}
      }
    },
    {
      "data": {"name": "dD26"},
      "mark": {"type": "line", "strokeWidth": 1},
      "encoding": {
        "x": {"field": "t", "type": "quantitative", "scale": {"domain": [4, 21], "nice": false, "zero": false}, "axis": null},
        "y": {"field": "v", "type": "quantitative", "scale": {"domain": [-180, -60], "nice": false, "zero": false}, "axis": null},
        "color": {"datum": "26.3 m", "type": "nominal"}
      }
    },
    {
      "data": {"name": "dD70"},
      "mark": {"type": "line", "strokeWidth": 1},
      "encoding": {
        "x": {"field": "t", "type": "quantitative", "scale": {"domain": [4, 21], "nice": false, "zero": false}, "axis": null},
        "y": {"field": "v", "type": "quantitative", "scale": {"domain": [-180, -60], "nice": false, "zero": false}, "axis": null},
        "color": {"datum": "70.3 m", "type": "nominal"}
      }
    }
  ]
}
],
"resolve": {"scale": {"color": "independent"}, "legend": {"color": "independent"}}
}
